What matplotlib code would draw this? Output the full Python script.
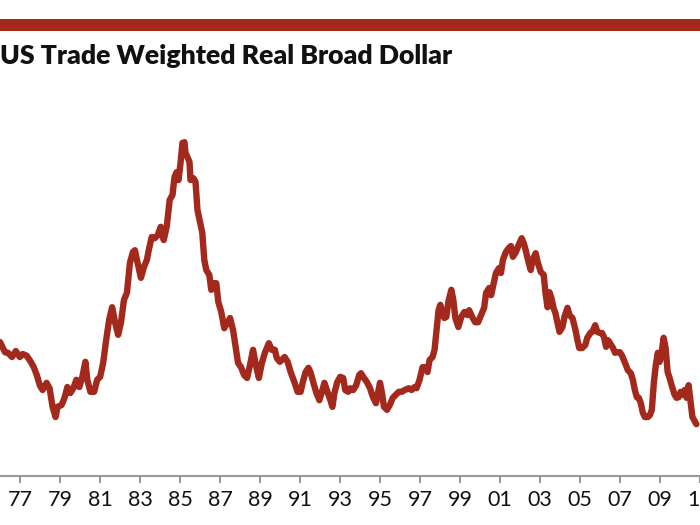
import matplotlib
matplotlib.use("Agg")
import matplotlib.pyplot as plt
from matplotlib.patches import Rectangle

# (decimal year, index value)
years = [
    1975.98, 1976.23, 1976.38, 1976.58, 1976.77, 1976.97, 1977.12, 1977.32, 1977.52, 1977.67,
    1977.82, 1977.97, 1978.11, 1978.31, 1978.46, 1978.61, 1978.76, 1978.86, 1979.06, 1979.21,
    1979.35, 1979.50, 1979.65, 1979.80, 1979.95, 1980.10, 1980.25, 1980.35, 1980.50, 1980.69,
    1980.84, 1980.99, 1981.14, 1981.29, 1981.44, 1981.59, 1981.74, 1981.89, 1982.03, 1982.18,
    1982.33, 1982.48, 1982.63, 1982.73, 1982.83, 1983.03, 1983.18, 1983.33, 1983.42, 1983.57,
    1983.72, 1983.87, 1984.02, 1984.17, 1984.32, 1984.47, 1984.61, 1984.71, 1984.81, 1984.91,
    1985.01, 1985.11, 1985.21, 1985.26, 1985.36, 1985.46, 1985.51, 1985.66, 1985.76, 1985.86,
    1986.00, 1986.10, 1986.20, 1986.30, 1986.45, 1986.55, 1986.70, 1986.80, 1986.90, 1987.05,
    1987.20, 1987.35, 1987.49, 1987.64, 1987.79, 1987.89, 1988.04, 1988.19, 1988.34, 1988.49,
    1988.64, 1988.78, 1988.93, 1989.08, 1989.23, 1989.43, 1989.58, 1989.73, 1989.83, 1989.98,
    1990.07, 1990.22, 1990.37, 1990.52, 1990.72, 1990.87, 1991.02, 1991.12, 1991.27, 1991.41,
    1991.51, 1991.66, 1991.81, 1991.96, 1992.11, 1992.21, 1992.36, 1992.51, 1992.61, 1992.71,
    1992.85, 1993.00, 1993.15, 1993.25, 1993.40, 1993.50, 1993.65, 1993.80, 1993.95, 1994.04,
    1994.19, 1994.34, 1994.49, 1994.64, 1994.79, 1994.89, 1994.99, 1995.09, 1995.19, 1995.34,
    1995.48, 1995.63, 1995.78, 1995.93, 1996.08, 1996.23, 1996.43, 1996.57, 1996.72, 1996.82,
    1996.97, 1997.12, 1997.27, 1997.37, 1997.47, 1997.62, 1997.72, 1997.82, 1997.92, 1998.01,
    1998.11, 1998.21, 1998.31, 1998.41, 1998.56, 1998.66, 1998.76, 1998.91, 1999.06, 1999.21,
    1999.36, 1999.45, 1999.60, 1999.75, 1999.90, 2000.05, 2000.20, 2000.30, 2000.45, 2000.55,
    2000.69, 2000.79, 2000.94, 2001.04, 2001.14, 2001.29, 2001.44, 2001.54, 2001.64, 2001.79,
    2001.93, 2002.08, 2002.18, 2002.28, 2002.43, 2002.53, 2002.63, 2002.78, 2002.88, 2003.03,
    2003.18, 2003.27, 2003.37, 2003.47, 2003.57, 2003.67, 2003.77, 2003.87, 2003.97, 2004.12,
    2004.22, 2004.37, 2004.47, 2004.62, 2004.77, 2004.87, 2004.96, 2005.11, 2005.26, 2005.36,
    2005.51, 2005.61, 2005.76, 2005.86, 2006.00, 2006.10, 2006.20, 2006.30, 2006.40, 2006.50,
    2006.65, 2006.75, 2006.85, 2006.99, 2007.09, 2007.19, 2007.29, 2007.39, 2007.54, 2007.64,
    2007.74, 2007.84, 2007.94, 2008.04, 2008.14, 2008.24, 2008.39, 2008.49, 2008.59, 2008.69,
    2008.79, 2008.89, 2008.98, 2009.08, 2009.18, 2009.28, 2009.38, 2009.48, 2009.58, 2009.73,
    2009.83, 2009.93, 2010.03, 2010.13, 2010.23, 2010.33, 2010.43, 2010.52, 2010.62, 2010.82,
]
dollar = [
    96.0, 94.3, 94.2, 93.5, 94.5, 93.5, 94.0, 93.7, 92.7, 91.8,
    90.5, 88.8, 88.0, 89.2, 88.3, 85.2, 83.5, 85.2, 85.5, 86.7,
    88.5, 87.5, 88.3, 89.7, 88.5, 90.2, 92.7, 89.7, 87.7, 87.7,
    89.7, 90.2, 92.5, 96.3, 99.7, 101.8, 99.2, 97.2, 99.2, 103.0,
    104.2, 109.2, 111.0, 111.3, 109.7, 106.7, 108.5, 109.7, 111.3, 113.5,
    113.3, 113.8, 115.2, 113.0, 115.2, 119.7, 120.5, 123.5, 124.3, 123.0,
    125.8, 129.2, 129.3, 127.5, 126.8, 126.0, 123.0, 123.3, 122.7, 118.0,
    115.8, 114.2, 109.7, 108.0, 107.2, 104.7, 105.8, 105.8, 102.7, 101.0,
    98.3, 99.2, 100.0, 98.0, 94.7, 92.5, 91.8, 90.5, 90.0, 92.2,
    94.7, 92.2, 90.0, 92.5, 94.2, 95.8, 94.7, 94.7, 93.3, 92.7,
    93.0, 93.5, 92.7, 91.0, 89.2, 87.7, 87.7, 89.2, 91.0, 91.7,
    91.0, 89.2, 87.5, 86.3, 88.0, 89.2, 87.7, 86.3, 85.2, 87.5,
    89.3, 90.2, 90.0, 88.0, 87.7, 88.3, 88.0, 88.8, 90.5, 90.8,
    90.0, 89.3, 88.3, 86.8, 85.8, 87.5, 89.2, 87.5, 85.2, 84.7,
    85.5, 86.7, 87.2, 87.7, 87.7, 88.0, 88.3, 88.0, 88.5, 88.3,
    89.7, 91.8, 91.8, 91.0, 93.0, 93.5, 94.7, 98.0, 101.3, 102.2,
    100.8, 100.0, 100.2, 102.7, 104.7, 103.0, 100.0, 98.5, 100.2, 101.0,
    100.5, 101.3, 100.2, 99.3, 99.3, 100.5, 101.7, 104.2, 105.0, 103.8,
    106.0, 107.5, 108.3, 107.5, 109.7, 111.0, 111.7, 112.0, 110.2, 111.0,
    112.2, 113.3, 112.5, 111.3, 109.2, 108.0, 109.7, 110.8, 109.3, 107.7,
    107.2, 104.2, 101.8, 104.3, 103.3, 101.7, 100.8, 99.2, 97.7, 98.5,
    100.2, 101.7, 100.5, 100.0, 98.0, 96.3, 95.0, 95.0, 95.5, 96.7,
    97.5, 97.7, 98.8, 97.7, 97.5, 97.5, 96.8, 95.2, 96.3, 95.8,
    95.0, 94.2, 94.3, 94.3, 93.8, 93.0, 92.2, 91.3, 90.8, 89.7,
    88.0, 86.8, 86.7, 85.8, 84.2, 83.5, 83.5, 83.8, 84.7, 89.2,
    92.2, 94.2, 92.7, 94.2, 96.7, 95.0, 91.0, 90.0, 88.8, 87.2,
    86.7, 86.8, 87.7, 87.2, 88.0, 86.7, 88.8, 86.3, 83.5, 82.3,
]
tick_years = list(range(1977, 2012, 2))
tick_labels = [str(y)[2:] for y in tick_years]

red = "#a3291d"

fig = plt.figure(figsize=(7, 5.25), dpi=100)
ax = fig.add_axes([0, 49 / 525, 1, 396 / 525])

ax.plot(years, dollar, color=red, linewidth=4.6, solid_joinstyle="round", solid_capstyle="round")

ax.set_xlim(1975.98, 2010.72)
ax.set_ylim(73.67, 139.67)
ax.set_xticks(tick_years)
ax.set_xticklabels(tick_labels, fontsize=15.5, family=["Lato", "DejaVu Sans"], color="#111111")
ax.set_yticks([])
for s in ["top", "right", "left"]:
    ax.spines[s].set_visible(False)
ax.spines["bottom"].set_color("#999999")
ax.spines["bottom"].set_linewidth(1.5)
ax.tick_params(axis="x", direction="out", length=5, width=1.5, color="#999999", pad=5)

# red band at the top
fig.patches.append(Rectangle((0, 494 / 525), 1, 12 / 525, transform=fig.transFigure,
                             facecolor=red, edgecolor="none"))
fig.text(0.0, 1 - 56 / 525, "US Trade Weighted Real Broad Dollar", fontsize=19.2,
         fontweight="heavy", family=["Lato", "DejaVu Sans"],
         va="center", ha="left", color="#111111")

fig.savefig("out.png", dpi=100)
